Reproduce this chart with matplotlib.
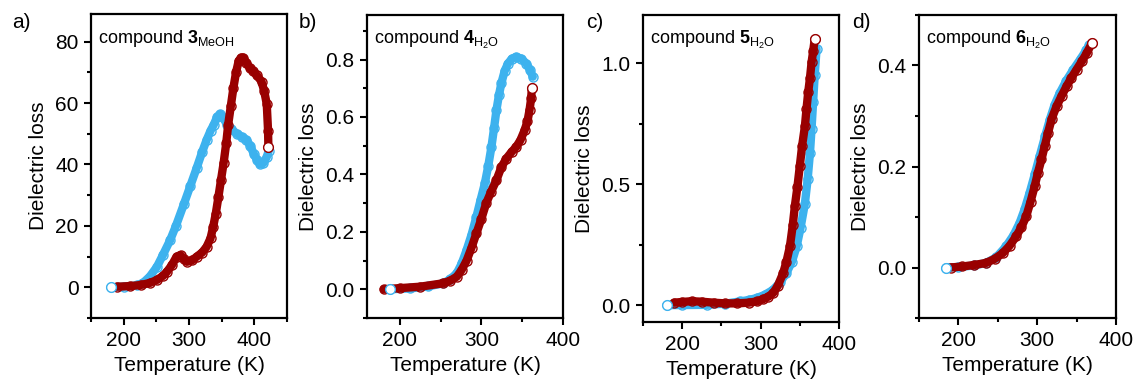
import matplotlib
matplotlib.use("Agg")
import matplotlib.pyplot as plt
from matplotlib.ticker import MultipleLocator

plt.rcParams["font.family"] = ["Liberation Sans", "DejaVu Sans"]
plt.rcParams["mathtext.fontset"] = "custom"
plt.rcParams["mathtext.rm"] = "Liberation Sans"
plt.rcParams["mathtext.bf"] = "Liberation Sans:bold"

BLUE = "#3db2ee"
RED = "#990000"

# a) compound 3 MeOH
a_blue_T = [180, 200, 220, 230, 240, 251, 260, 271, 280, 292, 302, 312, 320, 327, 333, 338,
            343, 348, 353, 358, 365, 373, 381, 388, 394, 399, 404, 409, 414, 419, 422]
a_blue_y = [0, 0.2, 0.6, 1.5, 3.5, 6.7, 10.5, 15.3, 20, 27, 33, 39, 44, 48, 51, 53,
            55.5, 56.4, 55, 53, 51.5, 50, 49, 48, 46, 43.5, 41.5, 40, 40.5, 42.4, 44.5]
a_red_T = [190, 210, 226, 240, 251, 260, 266, 274, 281, 287, 292, 297, 305, 312, 320, 327,
           333, 337, 341, 345, 349, 353, 357, 360, 364, 368, 372, 376, 380, 383, 388, 393,
           398, 404, 411, 415, 419, 421, 421.5]
a_red_y = [0.2, 0.4, 0.75, 1.4, 2.4, 3.7, 5, 7.3, 10, 10.5, 9.3, 8.3, 8.8, 10, 11.3, 13.2,
           16, 19.7, 24, 29.4, 35, 40.5, 47, 53, 59, 65, 70, 73.7, 74.8, 74.8, 73, 71.5,
           70.5, 69, 67, 64, 59.7, 51, 45.6]

# b) compound 4 H2O
b_blue_T = [188, 213, 235, 253.5, 262, 270, 276, 282, 288, 294, 299, 304.3, 308.5, 312.4,
            315.5, 318.5, 321.5, 324.5, 328.5, 332.6, 337.5, 342.8, 349, 355, 359.5, 363]
b_blue_y = [0, 0.003, 0.01, 0.021, 0.035, 0.056, 0.09, 0.137, 0.19, 0.253, 0.31, 0.369,
            0.43, 0.496, 0.56, 0.624, 0.675, 0.717, 0.76, 0.786, 0.803, 0.809, 0.803,
            0.786, 0.765, 0.74]
b_red_T = [180.5, 200, 225, 253.5, 262, 270, 276, 282, 288, 294, 300, 306, 312, 318.5,
           324.5, 330.6, 337, 342.8, 348, 353, 356.5, 359, 361, 361.8]
b_red_y = [0, 0.004, 0.009, 0.021, 0.03, 0.044, 0.068, 0.10, 0.145, 0.195, 0.245, 0.30,
           0.34, 0.38, 0.425, 0.455, 0.478, 0.496, 0.52, 0.554, 0.585, 0.624, 0.665, 0.70]

# c) compound 5 H2O
c_blue_T = [180, 200, 231, 255, 273.6, 285, 295, 305, 316, 325, 333, 340, 346, 351, 356.5,
            360, 363, 365, 367, 369, 371.4]
c_blue_y = [0, 0.0, 0.001, 0.006, 0.015, 0.021, 0.029, 0.042, 0.063, 0.095, 0.133, 0.18,
            0.243, 0.32, 0.42, 0.52, 0.63, 0.73, 0.84, 0.95, 1.06]
c_red_T = [190, 200, 212, 225, 240, 255, 270, 285, 295, 303, 310, 316, 322, 328.8, 333,
           337.4, 341, 343.7, 347, 350, 353, 356.5, 358.5, 360.7, 363, 365, 367, 369]
c_red_y = [0.01, 0.013, 0.016, 0.014, 0.01, 0.007, 0.007, 0.01, 0.015, 0.024, 0.035, 0.05,
           0.08, 0.133, 0.18, 0.243, 0.33, 0.41, 0.49, 0.575, 0.66, 0.74, 0.81, 0.88, 0.94,
           1.004, 1.05, 1.10]

# d) compound 6 H2O
d_blue_T = [184, 200, 220, 235, 248, 260.6, 270, 277.6, 284, 290.4, 297, 303, 310, 316,
            322, 328.8, 337, 345.8, 355, 362, 366]
d_blue_y = [0, 0.001, 0.004, 0.009, 0.02, 0.042, 0.064, 0.088, 0.115, 0.148, 0.185, 0.22,
            0.26, 0.293, 0.322, 0.346, 0.37, 0.392, 0.413, 0.43, 0.44]
d_red_T = [190, 205, 220, 235, 246, 256, 265, 273.4, 280, 286, 291.5, 296.8, 301, 305.4,
           309.5, 313.8, 318.5, 324.5, 331, 337.3, 343.5, 350, 356.5, 363, 369.3]
d_red_y = [0, 0.002, 0.005, 0.009, 0.017, 0.028, 0.043, 0.062, 0.08, 0.101, 0.13, 0.161,
           0.188, 0.214, 0.24, 0.267, 0.295, 0.319, 0.34, 0.359, 0.376, 0.392, 0.408,
           0.425, 0.444]

panel_letters = ["a)", "b)", "c)", "d)"]
compound_labels = [r"compound $\mathbf{3}_{\mathrm{MeOH}}$",
                   r"compound $\mathbf{4}_{\mathrm{H_2O}}$",
                   r"compound $\mathbf{5}_{\mathrm{H_2O}}$",
                   r"compound $\mathbf{6}_{\mathrm{H_2O}}$"]


def draw_series(ax, T, y, color, end):
    # dense open circles in the original -> thick band + open markers
    ax.plot(T, y, "-", color=color, lw=6, solid_capstyle="round", zorder=2)
    ax.plot(T, y, "o", mfc="none", mec=color, ms=6.5, mew=1, zorder=2)
    ax.plot([T[end]], [y[end]], "o", mfc="white", mec=color, ms=7, mew=1, zorder=3)


def style_axes(ax, xlim, ylim, ymajor, yminor):
    ax.set_xlim(*xlim)
    ax.set_ylim(*ylim)
    ax.xaxis.set_major_locator(MultipleLocator(100))
    ax.xaxis.set_minor_locator(MultipleLocator(50))
    ax.yaxis.set_major_locator(MultipleLocator(ymajor))
    ax.yaxis.set_minor_locator(MultipleLocator(yminor))
    ax.tick_params(which="major", direction="out", length=5, width=1.5, labelsize=15, pad=4)
    ax.tick_params(which="minor", direction="out", length=3, width=1.5)
    for s in ax.spines.values():
        s.set_linewidth(1.6)
    ax.set_xlabel("Temperature (K)", fontsize=15, labelpad=5)
    ax.set_ylabel("Dielectric loss", fontsize=15, labelpad=5)


fig = plt.figure(figsize=(11.39, 3.8), dpi=100)
W, H = 1139.0, 380.0
boxes = [(91, 287, 14, 318), (367, 563, 15, 318), (643, 839, 15, 322), (919, 1116, 15, 318)]
letter_x = [12, 299, 586, 852]
axes = []
for (l, r, t, b) in boxes:
    axes.append(fig.add_axes([l / W, 1 - b / H, (r - l) / W, (b - t) / H]))

series = [
    (a_blue_T, a_blue_y, a_red_T, a_red_y),
    (b_blue_T, b_blue_y, b_red_T, b_red_y),
    (c_blue_T, c_blue_y, c_red_T, c_red_y),
    (d_blue_T, d_blue_y, d_red_T, d_red_y),
]
limits = [
    ((150, 450), (-10, 89), 20, 10),
    ((160, 400), (-0.1, 0.955), 0.2, 0.1),
    ((150, 400), (-0.07, 1.2), 0.5, 0.25),
    ((150, 400), (-0.1, 0.5), 0.2, 0.1),
]

for i, ax in enumerate(axes):
    bT, by, rT, ry = series[i]
    draw_series(ax, bT, by, BLUE, 0)
    draw_series(ax, rT, ry, RED, -1)
    xlim, ylim, ymaj, ymin = limits[i]
    style_axes(ax, xlim, ylim, ymaj, ymin)
    ax.text(0.035, 0.955, compound_labels[i], transform=ax.transAxes, fontsize=13,
            va="top", ha="left")
    fig.text(letter_x[i] / W, 1 - 23 / H, panel_letters[i], fontsize=15, va="center", ha="left")

fig.savefig("out.png", dpi=100)
